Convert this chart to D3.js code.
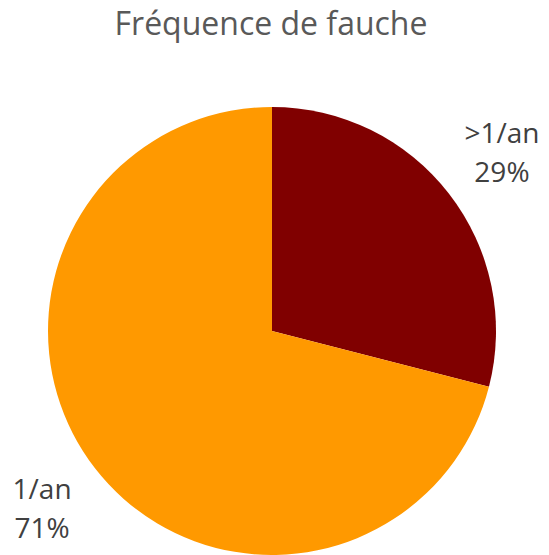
<!DOCTYPE html>
<html>
<head>
<meta charset="utf-8">
<script src="https://cdn.jsdelivr.net/npm/d3@7"></script>
<style>
  html, body { margin: 0; padding: 0; background: #fff; }
  svg { display: block; }
</style>
</head>
<body>
<svg id="chart" width="549" height="555"></svg>
<script>
// Mowing frequency shares
const categories = [">1/an", "1/an"];
const values = [29, 71];
const colors = ["#800000", "#FF9900"];
const title = "Fréquence de fauche";

const width = 549, height = 555;
const cx = 272, cy = 331, radius = 224;
const labelRadius = 291;
const font = "'Open Sans', 'Liberation Sans', sans-serif";

const svg = d3.select("#chart");

// Fit a text element's font size so it spans the given width
function fitWidth(sel, target, start) {
  sel.attr("font-size", start);
  const w = sel.node().getComputedTextLength();
  sel.attr("font-size", start * target / w);
}

const t = svg.append("text")
  .attr("x", 271).attr("y", 35)
  .attr("text-anchor", "middle")
  .attr("font-family", font)
  .attr("fill", "#595959")
  .text(title);
fitWidth(t, 313, 30);

const data = categories.map((c, i) => ({ cat: c, value: values[i], color: colors[i] }));

const pie = d3.pie().value(d => d.value).sort(null);
const arcs = pie(data);

const arc = d3.arc().innerRadius(0).outerRadius(radius);
const labelArc = d3.arc().innerRadius(labelRadius).outerRadius(labelRadius);

const g = svg.append("g").attr("transform", `translate(${cx},${cy})`);

g.selectAll("path.slice")
  .data(arcs)
  .join("path")
  .attr("class", "slice")
  .attr("d", arc)
  .attr("fill", d => d.data.color);

const total = d3.sum(values);
const labels = g.selectAll("text.lbl")
  .data(arcs)
  .join("text")
  .attr("class", "lbl")
  .attr("transform", d => {
    const [x, y] = labelArc.centroid(d);
    return `translate(${x},${y})`;
  })
  .attr("text-anchor", "middle")
  .attr("font-family", font)
  .attr("font-size", 28)
  .attr("fill", "#404040");

labels.append("tspan")
  .attr("x", 0).attr("y", -10)
  .text(d => d.data.cat);
labels.append("tspan")
  .attr("x", 0).attr("y", 29)
  .text(d => Math.round(d.data.value / total * 100) + "%");
</script>
</body>
</html>
